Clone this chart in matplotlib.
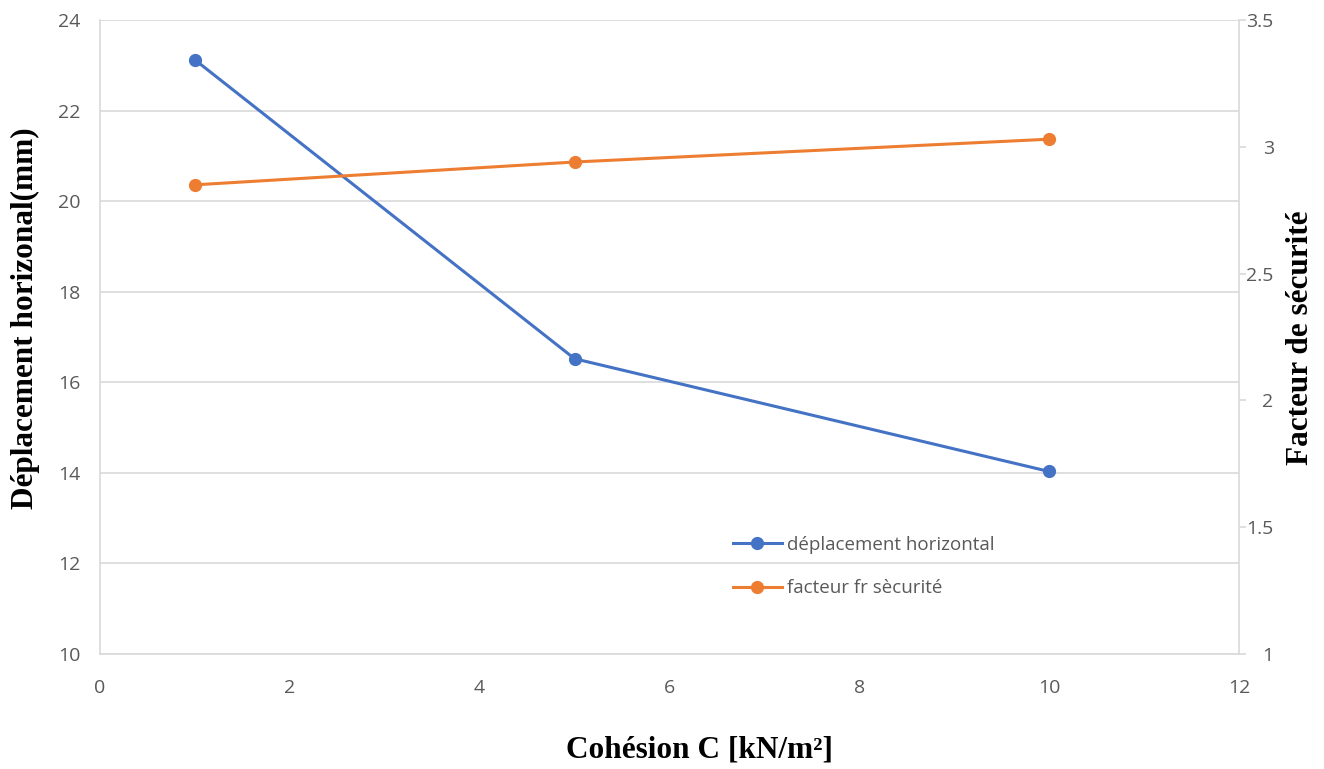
import matplotlib
matplotlib.use('Agg')
import matplotlib.pyplot as plt

# data
cohesion = [1, 5, 10]
deplacement = [23.12, 16.52, 14.03]
facteur = [2.85, 2.94, 3.03]

left_ticks = [10, 12, 14, 16, 18, 20, 22, 24]
right_ticks = [1, 1.5, 2, 2.5, 3, 3.5]
right_labels = ['1', '1.5', '2', '2.5', '3', '3.5']
x_ticks = [0, 2, 4, 6, 8, 10, 12]

blue = '#4472C4'
orange = '#ED7D31'
grey = '#595959'
grid = '#D9D9D9'

plt.rcParams['font.family'] = ['Open Sans', 'DejaVu Sans']

W, H = 1324, 769
fig = plt.figure(figsize=(W / 100, H / 100), dpi=100)
ax = fig.add_axes([100 / W, 1 - 654 / H, 1139 / W, 634 / H])
ax2 = ax.twinx()

l1, = ax.plot(cohesion, deplacement, color=blue, lw=2.2, marker='o', ms=8.5,
              label='déplacement horizontal')
l2, = ax2.plot(cohesion, facteur, color=orange, lw=2.2, marker='o', ms=8.5,
               label='facteur fr sècurité')

ax.set_xlim(0, 12)
ax.set_ylim(10, 24)
ax2.set_ylim(1, 3.5)
ax.set_xticks(x_ticks)
ax.set_yticks(left_ticks)
ax2.set_yticks(right_ticks)
ax2.set_yticklabels(right_labels, ha='right')

ax.grid(axis='y', color=grid, lw=1.2)
ax.set_axisbelow(True)

for a in (ax, ax2):
    for s in a.spines.values():
        s.set_visible(False)
ax.spines['bottom'].set_visible(True)
ax.spines['left'].set_visible(True)
ax2.spines['right'].set_visible(True)
for s in (ax.spines['bottom'], ax.spines['left'], ax2.spines['right']):
    s.set_color(grid)
    s.set_linewidth(1.2)

ax.tick_params(axis='y', length=0, labelsize=14, colors=grey, pad=14)
ax.tick_params(axis='x', length=0, labelsize=14, colors=grey, pad=18)
ax2.tick_params(axis='y', length=5, width=1.2, color=grid, labelsize=14,
                labelcolor=grey, pad=20)

serif = dict(family='Liberation Serif', fontweight='bold', fontsize=22.5, color='black')
fig.text(700 / W, 1 - 750 / H, 'Cohésion C [kN/m²]', ha='center', va='center', **serif)
fig.text(25 / W, 1 - 318 / H, 'Déplacement horizonal(mm)', rotation=90,
         ha='center', va='center', **serif)
fig.text(1300 / W, 1 - 338 / H, 'Facteur de sécurité', rotation=90,
         ha='center', va='center', **serif)

fig.legend(handles=[l1, l2], loc='upper left', bbox_to_anchor=(716 / W, 1 - 519 / H),
           frameon=False, fontsize=13.5, labelcolor=grey, handlelength=2.6,
           handletextpad=0.3, labelspacing=1.35)

fig.savefig('out.png', dpi=100)
